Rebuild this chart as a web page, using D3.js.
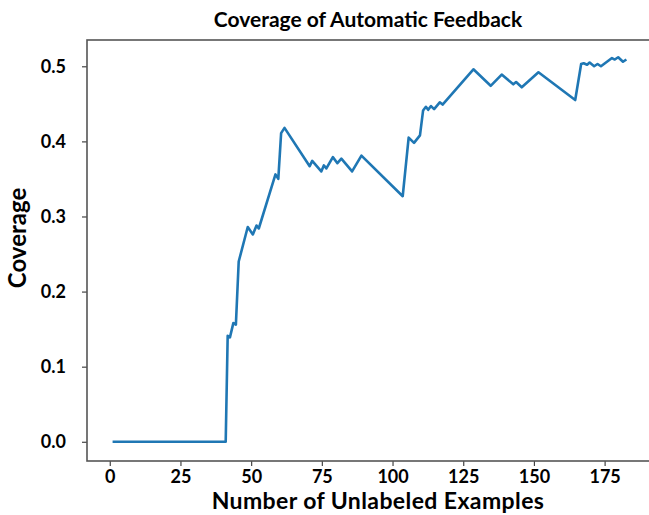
<!DOCTYPE html>
<html>
<head>
<meta charset="utf-8">
<script src="https://cdn.jsdelivr.net/npm/d3@7"></script>
<style>
  body { margin: 0; background: #fff; }
  svg text { font-family: Lato, "Open Sans", sans-serif; font-weight: bold; fill: #000; }
</style>
</head>
<body>
<div id="chart"></div>
<script>
// values
const examples = [1, 41, 41.7, 42.5, 43.7, 44.6, 45.6, 48.8, 50.6, 51.9, 52.7, 58.6, 59.6, 60.6, 61.8,
    70.7, 71.6, 74.8, 75.7, 76.6, 78.9, 80.5, 81.9, 85.7, 89, 103.6, 105.7, 107.6, 109.7,
    110.8, 111.8, 112.6, 113.6, 114.7, 116.7, 117.7, 128.6, 134.7, 138.6, 142.7, 143.7, 145.7,
    151.6, 164.6, 166.7, 167.6, 168.8, 169.7, 171.3, 172.5, 173.7, 177.6, 178.6, 179.8, 181.5, 182.7];
const coverage = [0, 0, 0.141, 0.139, 0.158, 0.156, 0.240, 0.286, 0.276, 0.288, 0.284, 0.356, 0.350, 0.411, 0.418,
    0.367, 0.374, 0.360, 0.368, 0.364, 0.379, 0.371, 0.377, 0.360, 0.381, 0.327, 0.405, 0.398, 0.408,
    0.441, 0.446, 0.442, 0.447, 0.443, 0.452, 0.449, 0.496, 0.474, 0.489, 0.476, 0.479, 0.472,
    0.492, 0.455, 0.503, 0.504, 0.502, 0.505, 0.500, 0.503, 0.500, 0.511, 0.509, 0.512, 0.506, 0.509];
const xTicks = [0, 25, 50, 75, 100, 125, 150, 175];
const yTicks = [0, 0.1, 0.2, 0.3, 0.4, 0.5];

const width = 649;
const height = 515;
const plot = { left: 87, right: 650, top: 40, bottom: 461 };

const data = examples.map((x, i) => ({ x: x, y: coverage[i] }));

const svg = d3.select('#chart')
    .append('svg')
    .attr('width', width)
    .attr('height', height);

// matplotlib style 5% margins around the data
const x = d3.scaleLinear().domain([-8.05, 191.05]).range([plot.left, plot.right]);
const y = d3.scaleLinear().domain([-0.0256, 0.535]).range([plot.bottom, plot.top]);

const xAxis = svg.append('g')
    .attr('transform', `translate(0, ${plot.bottom})`)
    .call(d3.axisBottom(x).tickValues(xTicks).tickFormat(d3.format('d')).tickSize(5).tickPadding(4));

const yAxis = svg.append('g')
    .attr('transform', `translate(${plot.left}, 0)`)
    .call(d3.axisLeft(y).tickValues(yTicks).tickFormat(d3.format('.1f')).tickSize(5).tickPadding(16));

for (const ax of [xAxis, yAxis]) {
    ax.select('.domain').remove();
    ax.selectAll('line').attr('stroke', '#444').attr('stroke-width', 1.2);
    ax.selectAll('text').style('font-size', '18px');
}

// frame (right spine falls just outside the picture)
svg.append('rect')
    .attr('x', plot.left)
    .attr('y', plot.top)
    .attr('width', plot.right - plot.left)
    .attr('height', plot.bottom - plot.top)
    .attr('fill', 'none')
    .attr('stroke', '#555')
    .attr('stroke-width', 1.6);

const line = d3.line().x(d => x(d.x)).y(d => y(d.y));

svg.append('path')
    .datum(data)
    .attr('d', line)
    .attr('fill', 'none')
    .attr('stroke', '#1f77b4')
    .attr('stroke-width', 2.6)
    .attr('stroke-linejoin', 'round');

svg.append('text')
    .attr('x', 368)
    .attr('y', 27)
    .attr('text-anchor', 'middle')
    .style('font-size', '21px')
    .text('Coverage of Automatic Feedback');

svg.append('text')
    .attr('x', 378)
    .attr('y', 509)
    .attr('text-anchor', 'middle')
    .style('font-size', '23px')
    .style('letter-spacing', '0.4px')
    .text('Number of Unlabeled Examples');

svg.append('text')
    .attr('transform', 'translate(26, 238) rotate(-90)')
    .attr('text-anchor', 'middle')
    .style('font-size', '24px')
    .text('Coverage');
</script>
</body>
</html>
